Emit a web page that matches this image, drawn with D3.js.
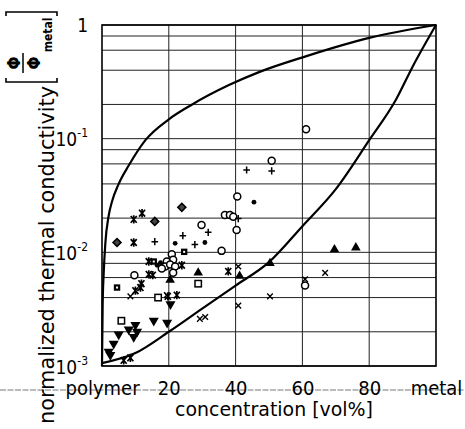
<!DOCTYPE html>
<html>
<head>
<meta charset="utf-8">
<script src="https://cdn.jsdelivr.net/npm/d3@7"></script>
<style>
  html, body { margin: 0; padding: 0; background: #fff; }
  svg { display: block; }
</style>
</head>
<body>
<div id="chart"></div>
<script>
// concentration (vol %) vs normalized conductivity
const upperBound = [[0, 0.001], [0.2, 0.0035], [0.5, 0.0065], [1, 0.012], [2, 0.021], [3, 0.028],
  [5, 0.04], [8, 0.058], [13, 0.097], [20, 0.148], [27, 0.2], [38, 0.296], [47, 0.385],
  [61, 0.53], [80, 0.77], [100, 1]];
const lowerBound = [[0, 0.00106], [10, 0.0013], [20, 0.002], [30, 0.0032], [40, 0.0051],
  [50, 0.0082], [60, 0.017], [70, 0.036], [80, 0.097], [88, 0.22], [93, 0.43], [100, 1]];

const openCircles = [[61.1, 0.121], [50.8, 0.064], [40.5, 0.031], [36.8, 0.0213], [38.3, 0.0213],
  [39.3, 0.0206], [40.3, 0.0157], [29.8, 0.0174], [35.8, 0.0103], [9.7, 0.0063], [20.9, 0.0096],
  [21.3, 0.0086], [19.4, 0.0083], [18.9, 0.0075], [20.4, 0.0078], [21.9, 0.0075], [21.3, 0.0066],
  [17.9, 0.0072], [60.8, 0.0051]];
const filledDots = [[45.5, 0.0276], [30.8, 0.0122], [21.9, 0.012], [17.5, 0.0081], [16.5, 0.0077]];
const plusSigns = [[43.3, 0.053], [50.8, 0.052], [31.8, 0.015], [24.2, 0.014], [27.8, 0.0117],
  [15.8, 0.0124], [40.8, 0.0198]];
const asterisks = [[12.0, 0.0221], [9.5, 0.0195], [9.5, 0.0122], [14, 0.0083], [14, 0.0064],
  [15.2, 0.0063], [11.8, 0.0053], [11.5, 0.0049], [10, 0.0046], [23.9, 0.0077], [22.4, 0.0042],
  [19.7, 0.0041], [37.8, 0.0068], [6.5, 0.00112], [8.5, 0.00118]];
const diamonds = [[23.9, 0.0249], [15.8, 0.0187], [4.5, 0.0122]];
const dotSquares = [[4.5, 0.0049], [24.6, 0.0101], [15.5, 0.0083]];
const openSquares = [[28.8, 0.0053], [16.8, 0.004], [5.8, 0.0025]];
const triangles = [[28.8, 0.0066], [69.6, 0.0106], [76, 0.011], [50.3, 0.008], [20.4, 0.0057],
  [41.2, 0.0062]];
const downTriangles = [[20.5, 0.0035], [15.5, 0.0025], [19.5, 0.0024], [10, 0.0023], [8, 0.0021],
  [10.5, 0.002], [9.5, 0.0018], [5, 0.0019], [3.5, 0.00157], [2, 0.00134], [2.5, 0.00125]];
const crosses = [[29.3, 0.0026], [30.9, 0.0027], [50.3, 0.0041], [60.8, 0.0058], [66.8, 0.0066],
  [40.8, 0.0034], [40.8, 0.0075], [8.5, 0.0041], [19.4, 0.0042]];

const xTicks = [0, 20, 40, 60, 80, 100];
const xTickLabels = ["polymer", "20", "40", "60", "80", "metal"];
const yTicks = [1, 0.1, 0.01, 0.001];
const yTickExp = ["", "-1", "-2", "-3"];
const yGrid = [1, 0.8, 0.6, 0.4, 0.2, 0.1, 0.08, 0.06, 0.04, 0.02, 0.01, 0.008, 0.006, 0.004, 0.002, 0.001];

const W = 465, H = 429;
const plotLeft = 102, plotRight = 436, plotTop = 25, plotBottom = 366;
const font = "'DejaVu Sans Condensed', 'DejaVu Sans', sans-serif";

const svg = d3.select("#chart").append("svg").attr("width", W).attr("height", H);

const x = d3.scaleLinear().domain([0, 100]).range([plotLeft, plotRight]);
const y = d3.scaleLog().domain([0.001, 1]).range([plotBottom, plotTop]);

// stray scan line through the x labels
svg.append("line")
  .attr("x1", 0).attr("x2", W).attr("y1", 390).attr("y2", 390)
  .attr("stroke", "#555").attr("stroke-width", 0.8).attr("stroke-dasharray", "6,1.5");

// grid
svg.append("g").selectAll("line").data(yGrid).enter().append("line")
  .attr("x1", plotLeft).attr("x2", plotRight)
  .attr("y1", d => y(d)).attr("y2", d => y(d))
  .attr("stroke", "#222").attr("stroke-width", 1);
svg.append("g").selectAll("line").data([20, 40, 60, 80]).enter().append("line")
  .attr("x1", d => x(d)).attr("x2", d => x(d))
  .attr("y1", plotTop).attr("y2", plotBottom)
  .attr("stroke", "#222").attr("stroke-width", 1);

svg.append("rect")
  .attr("x", plotLeft).attr("y", plotTop).attr("width", plotRight - plotLeft).attr("height", plotBottom - plotTop)
  .attr("fill", "none").attr("stroke", "#000").attr("stroke-width", 1.6);

// bounds
const line = d3.line().x(d => x(d[0])).y(d => y(d[1])).curve(d3.curveMonotoneX);
[upperBound, lowerBound].forEach(c => {
  svg.append("path").attr("d", line(c))
    .attr("fill", "none").attr("stroke", "#000").attr("stroke-width", 2.2);
});

// markers
function place(data, draw) {
  const g = svg.append("g");
  data.forEach(d => draw(g.append("g").attr("transform", `translate(${x(d[0])},${y(d[1])})`)));
}
place(openCircles, g => g.append("circle").attr("r", 3.5).attr("fill", "#fff").attr("stroke", "#000").attr("stroke-width", 1.5));
place(filledDots, g => g.append("circle").attr("r", 2.4).attr("fill", "#000"));
place(plusSigns, g => g.append("path").attr("d", "M-3.3,0H3.3M0,-3.6V3.6").attr("stroke", "#000").attr("stroke-width", 1.5));
place(asterisks, g => g.append("path").attr("d", "M-3,-3.4L3,3.4M3,-3.4L-3,3.4M0,-4.2V4.2")
  .attr("stroke", "#000").attr("stroke-width", 1.7));
place(diamonds, g => g.append("rect").attr("x", -2.8).attr("y", -2.8).attr("width", 5.6).attr("height", 5.6)
  .attr("transform", "rotate(45)").attr("fill", "#444").attr("stroke", "#000").attr("stroke-width", 1.6));
place(dotSquares, g => {
  g.append("rect").attr("x", -3.2).attr("y", -3.2).attr("width", 6.4).attr("height", 6.4).attr("fill", "#000");
  g.append("rect").attr("x", -1).attr("y", -1).attr("width", 2).attr("height", 2).attr("fill", "#fff");
});
place(openSquares, g => g.append("rect").attr("x", -3.2).attr("y", -3.2).attr("width", 6.4).attr("height", 6.4)
  .attr("fill", "#fff").attr("stroke", "#000").attr("stroke-width", 1.5));
place(triangles, g => g.append("path").attr("d", d3.symbol(d3.symbolTriangle, 40)()).attr("fill", "#000"));
place(downTriangles, g => g.append("path").attr("d", d3.symbol(d3.symbolTriangle, 44)()).attr("transform", "rotate(180)").attr("fill", "#000"));
place(crosses, g => g.append("path").attr("d", "M-2.8,-2.8L2.8,2.8M2.8,-2.8L-2.8,2.8").attr("stroke", "#000").attr("stroke-width", 1.4));

// x axis labels
const xAxis = svg.append("g").attr("transform", `translate(0,${plotBottom})`)
  .call(d3.axisBottom(x).tickValues(xTicks).tickSize(0).tickFormat((d, i) => xTickLabels[i]));
xAxis.select(".domain").remove();
xAxis.selectAll("text").attr("dy", 0).attr("y", 29)
  .attr("font-family", font).attr("font-size", 20).attr("fill", "#000");

// y axis labels
const yAxis = svg.append("g").attr("transform", `translate(${plotLeft},0)`)
  .call(d3.axisLeft(y).tickValues(yTicks).tickSize(0).tickFormat(() => ""));
yAxis.select(".domain").remove();
yAxis.selectAll(".tick text").each(function (d, i) {
  const t = d3.select(this).attr("x", -14).attr("dy", i === 0 ? 6 : 7)
    .attr("font-family", "'Liberation Sans Narrow', 'DejaVu Sans Condensed', sans-serif")
    .attr("font-size", 19).attr("fill", "#000");
  if (i === 0) { t.text("1"); return; }
  t.append("tspan").text("10");
  t.append("tspan").attr("font-size", 12).attr("dy", -9).text(yTickExp[i]);
});

// axis titles
svg.append("text")
  .attr("x", 274).attr("y", 416).attr("text-anchor", "middle")
  .attr("font-family", font).attr("font-size", 19)
  .attr("textLength", 198).attr("lengthAdjust", "spacingAndGlyphs")
  .text("concentration [vol%]");

svg.append("text")
  .attr("transform", "translate(54,424) rotate(-90)")
  .attr("font-family", font).attr("font-size", 22)
  .attr("textLength", 338).attr("lengthAdjust", "spacingAndGlyphs")
  .text("normalized thermal conductivity");

// unit bracket [ Φ / Φ_metal ]
const u = svg.append("g").attr("transform", "translate(30,47) rotate(-90)");
u.append("path")
  .attr("d", "M-31,-24H-35V27H-31M31,-24H35V27H31")
  .attr("fill", "none").attr("stroke", "#000").attr("stroke-width", 1.6);
u.append("text").attr("x", -16).attr("y", -10).attr("text-anchor", "middle")
  .attr("font-family", font).attr("font-size", 17).attr("font-weight", "bold").text("Φ");
u.append("line").attr("x1", -26).attr("x2", -6).attr("y1", -7).attr("y2", -7)
  .attr("stroke", "#000").attr("stroke-width", 1.5);
u.append("text").attr("x", -16).attr("y", 10).attr("text-anchor", "middle")
  .attr("font-family", font).attr("font-size", 17).attr("font-weight", "bold").text("Φ");
u.append("text").attr("x", 12).attr("y", 22).attr("text-anchor", "middle")
  .attr("font-family", font).attr("font-size", 12).attr("font-weight", "bold").text("metal");
</script>
</body>
</html>
